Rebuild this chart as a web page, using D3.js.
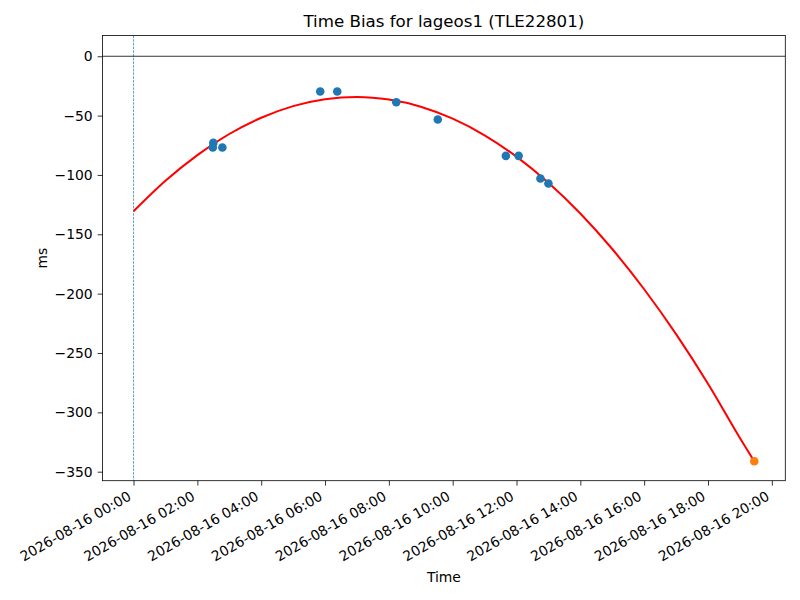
<!DOCTYPE html>
<html>
<head>
<meta charset="utf-8">
<script src="https://cdn.jsdelivr.net/npm/d3@7"></script>
<style>
  html, body { margin: 0; padding: 0; background: #fff; }
  svg { display: block; font-family: "DejaVu Sans", sans-serif; }
</style>
</head>
<body>
<svg id="chart" width="800" height="600"></svg>
<script>
// ---- data ----
const day = "2026-08-16";
const obsTimes  = ["02:30","02:29","02:47","05:51","06:23","08:14","09:32","11:40","12:04","12:45","13:00"];
const obsValues = [-73.0, -76.9, -76.9, -29.7, -29.7, -38.8, -53.3, -83.9, -83.9, -103.0, -107.2];
const predTimes  = ["19:27"];
const predValues = [-341.2];
const fitTimes  = ["00:00","01:00","02:00","03:00","04:00","05:00","06:00","07:00","08:00","09:00",
                   "10:00","11:00","12:00","13:00","14:00","15:00","16:00","17:00","18:00","19:00","19:27"];
const fitValues = [-130.6,-104.9,-83.3,-65.5,-51.8,-42.0,-36.2,-34.3,-36.5,-42.5,
                   -52.6,-66.6,-84.6,-106.6,-132.5,-162.4,-196.3,-234.1,-275.9,-321.6,-341.2];
const refTime = "00:00";
const refValue = 0;
const yTicks = [0, -50, -100, -150, -200, -250, -300, -350];
const titleText = "Time Bias for lageos1 (TLE22801)";
const xLabel = "Time";
const yLabel = "ms";

// ---- setup ----
const parse = d3.utcParse("%Y-%m-%d %H:%M");
const toDate = t => parse(day + " " + t);
const fmt = d3.utcFormat("%Y-%m-%d %H:%M");

const obs = obsTimes.map((t, i) => ({ t: toDate(t), v: obsValues[i] }));
const pred = predTimes.map((t, i) => ({ t: toDate(t), v: predValues[i] }));
const fit = fitTimes.map((t, i) => ({ t: toDate(t), v: fitValues[i] }));

const pL = 102.5, pR = 785.3, pT = 35.5, pB = 480.7;

const allT = [toDate(refTime), ...obs.map(d => d.t), ...pred.map(d => d.t), ...fit.map(d => d.t)];
const tMin = d3.min(allT), tMax = d3.max(allT);
const tPad = (tMax - tMin) * 0.05;
const allV = [refValue, ...obsValues, ...predValues, ...fitValues];
const vMin = d3.min(allV), vMax = d3.max(allV);
const vPad = (vMax - vMin) * 0.05;

const x = d3.scaleUtc()
  .domain([new Date(+tMin - tPad), new Date(+tMax + tPad)])
  .range([pL, pR]);
const y = d3.scaleLinear()
  .domain([vMin - vPad, vMax + vPad])
  .range([pB + 0.8, pT + 0.5]);

const svg = d3.select("#chart");

svg.append("defs").append("clipPath").attr("id", "clip")
  .append("rect").attr("x", pL).attr("y", pT)
  .attr("width", pR - pL).attr("height", pB - pT);

const plot = svg.append("g").attr("clip-path", "url(#clip)");

// vertical dashed reference line at start time
plot.append("line")
  .attr("x1", x(toDate(refTime))).attr("x2", x(toDate(refTime)))
  .attr("y1", pT).attr("y2", pB)
  .attr("stroke", "#1f77b4").attr("stroke-width", 0.7)
  .attr("stroke-dasharray", "2.6,1.1");

// horizontal zero line
plot.append("line")
  .attr("x1", pL).attr("x2", pR)
  .attr("y1", y(refValue)).attr("y2", y(refValue))
  .attr("stroke", "#000").attr("stroke-width", 0.8);

// fitted curve
plot.append("path")
  .datum(fit)
  .attr("fill", "none")
  .attr("stroke", "#ff0000")
  .attr("stroke-width", 2)
  .attr("d", d3.line().x(d => x(d.t)).y(d => y(d.v)).curve(d3.curveMonotoneX));

// observations
plot.selectAll("circle.obs").data(obs).enter().append("circle")
  .attr("class", "obs")
  .attr("cx", d => x(d.t)).attr("cy", d => y(d.v)).attr("r", 4.3)
  .attr("fill", "#1f77b4");

// prediction
plot.selectAll("circle.pred").data(pred).enter().append("circle")
  .attr("class", "pred")
  .attr("cx", d => x(d.t)).attr("cy", d => y(d.v)).attr("r", 4.3)
  .attr("fill", "#ff7f0e");

// axes
const xTickVals = d3.utcHour.every(2).range(toDate("00:00"), new Date(+x.domain()[1] + 1));
const xAxis = d3.axisBottom(x).tickValues(xTickVals).tickFormat(fmt).tickSize(4.9).tickPadding(0);
const gx = svg.append("g").attr("transform", `translate(0,${pB})`).call(xAxis);
gx.select(".domain").remove();
gx.selectAll(".tick line").attr("stroke", "#000").attr("stroke-width", 0.8);
gx.selectAll(".tick text")
  .attr("font-size", 13.9)
  .attr("font-family", "DejaVu Sans, sans-serif")
  .attr("fill", "#000")
  .attr("text-anchor", "end")
  .attr("dy", null)
  .attr("y", null)
  .attr("transform", "translate(-2,18.5) rotate(-30)");

const yAxis = d3.axisLeft(y).tickValues(yTicks).tickFormat(d => d < 0 ? "\u2212" + Math.abs(d) : String(d)).tickSize(4.9).tickPadding(4.9);
const gy = svg.append("g").attr("transform", `translate(${pL},0)`).call(yAxis);
gy.select(".domain").remove();
gy.selectAll(".tick line").attr("stroke", "#000").attr("stroke-width", 0.8);
gy.selectAll(".tick text")
  .attr("font-size", 13.9)
  .attr("font-family", "DejaVu Sans, sans-serif")
  .attr("fill", "#000");

// frame
svg.append("rect")
  .attr("x", pL).attr("y", pT)
  .attr("width", pR - pL).attr("height", pB - pT)
  .attr("fill", "none").attr("stroke", "#000").attr("stroke-width", 0.8);

// title and labels
svg.append("text")
  .attr("x", (pL + pR) / 2).attr("y", 26.7)
  .attr("text-anchor", "middle")
  .attr("font-size", 16.67)
  .text(titleText);

svg.append("text")
  .attr("x", (pL + pR) / 2).attr("y", 582)
  .attr("text-anchor", "middle")
  .attr("font-size", 13.9)
  .text(xLabel);

svg.append("text")
  .attr("transform", `translate(46.5,${(pT + pB) / 2}) rotate(-90)`)
  .attr("text-anchor", "middle")
  .attr("font-size", 13.9)
  .text(yLabel);
</script>
</body>
</html>
